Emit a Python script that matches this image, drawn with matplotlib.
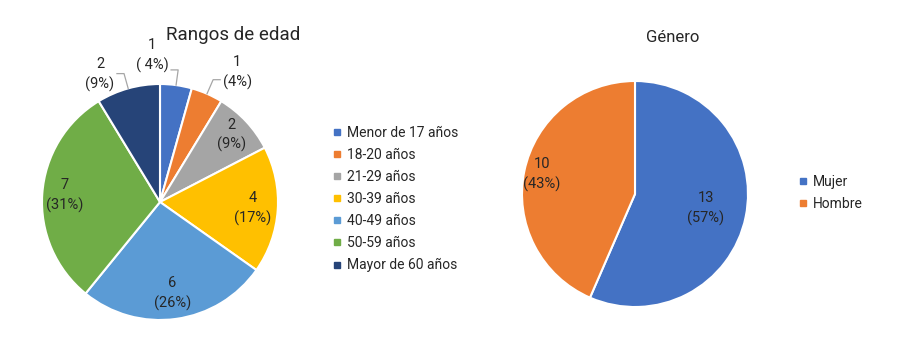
import matplotlib.pyplot as plt
import numpy as np

plt.rcParams['font.family'] = ['Roboto', 'DejaVu Sans']

# age ranges
edad_labels = ['Menor de 17 años', '18-20 años', '21-29 años', '30-39 años',
               '40-49 años', '50-59 años', 'Mayor de 60 años']
edad_counts = [1, 1, 2, 4, 6, 7, 2]
edad_pct = ['( 4%)', '(4%)', '(9%)', '(17%)', '(26%)', '(31%)', '(9%)']
edad_colors = ['#4472C4', '#ED7D31', '#A5A5A5', '#FFC000', '#5B9BD5', '#70AD47', '#264478']

# gender
genero_labels = ['Mujer', 'Hombre']
genero_counts = [13, 10]
genero_pct = ['(57%)', '(43%)']
genero_colors = ['#4472C4', '#ED7D31']

W, H = 897, 358
fig = plt.figure(figsize=(W / 100, H / 100), dpi=100)
txt = '#262626'


def px_axes(cx, cy, r):
    return fig.add_axes([(cx - r) / W, (H - cy - r) / H, 2 * r / W, 2 * r / H])


def draw_pie(ax, counts, colors, pct, inside, outside):
    wedges, _ = ax.pie(counts, colors=colors, startangle=90, counterclock=False,
                       wedgeprops=dict(edgecolor='white', linewidth=1.5))
    for i, w in enumerate(wedges):
        mid = np.deg2rad((w.theta1 + w.theta2) / 2)
        c, s = np.cos(mid), np.sin(mid)
        label = f'{counts[i]}\n{pct[i]}'
        if i in outside:
            side, dy = outside[i]
            re = 1.13
            ex, ey = re * c, re * s
            hx = ex + side * 0.06
            ax.plot([c, ex, hx], [s, ey, ey], color='#A6A6A6', lw=0.9, clip_on=False)
            ax.text(hx + side * 0.02, ey + dy, label, ha='left' if side > 0 else 'right',
                    va='center', multialignment='center', fontsize=10.5, color=txt,
                    linespacing=1.45)
        else:
            d = inside[i]
            ax.text(d * c, d * s, label, ha='center', va='center', fontsize=10.5,
                    color=txt, linespacing=1.45)
    ax.set_xlim(-1, 1)
    ax.set_ylim(-1, 1)
    return wedges


ax1 = px_axes(160, 202, 118)
w1 = draw_pie(ax1, edad_counts, edad_colors, edad_pct,
              {2: 0.83, 3: 0.79, 4: 0.78, 5: 0.81},
              {0: (-1, 0.12), 1: (1, 0.06), 6: (-1, -0.01)})
fig.text(233 / W, 1 - 35 / H, 'Rangos de edad', ha='center', va='center',
         fontsize=13.5, color=txt)

ax2 = px_axes(635, 194, 113)
w2 = draw_pie(ax2, genero_counts, genero_colors, genero_pct, {0: 0.64, 1: 0.84}, {})
fig.text(673 / W, 1 - 37 / H, 'Género', ha='center', va='center',
         fontsize=12, color=txt)


def legend(handles, labels, x, y):
    hs = [plt.Line2D([], [], marker='s', ls='', color=h.get_facecolor(), markersize=5)
          for h in handles]
    lg = fig.legend(hs, labels, loc='upper left', bbox_to_anchor=(x / W, 1 - y / H),
                    frameon=False, fontsize=10, handlelength=0.6, handletextpad=0.4,
                    labelspacing=0.58, borderpad=0, borderaxespad=0)
    for t in lg.get_texts():
        t.set_color(txt)


legend(w1, edad_labels, 333, 126)
legend(w2, genero_labels, 799, 175)

fig.savefig('out.png', dpi=100)
